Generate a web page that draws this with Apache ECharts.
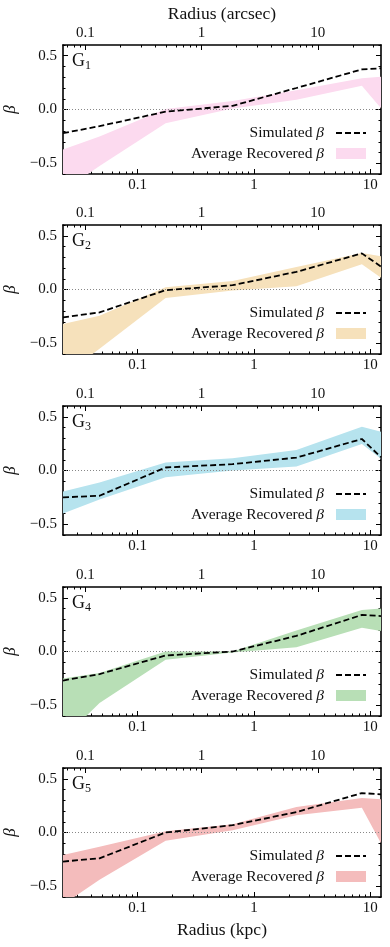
<!DOCTYPE html>
<html>
<head>
<meta charset="utf-8">
<script src="https://cdn.jsdelivr.net/npm/echarts@6/dist/echarts.min.js"></script>
<style>
  html, body { margin: 0; padding: 0; background: #fff; }
  #chart { width: 390px; height: 947px; }
</style>
</head>
<body>
<div id="chart"></div>
<script>
// radius in kpc where the profiles are read (first/last = plot edges)
var radiusKpc = [0.0228, 0.047, 0.174, 0.656, 2.32, 8.49, 12.4];

// simulated beta (dashed line)
var simG1 = [-0.22, -0.155, -0.02, 0.034, 0.20, 0.373, 0.383];
var simG2 = [-0.26, -0.213, -0.006, 0.04, 0.164, 0.336, 0.213];
var simG3 = [-0.25, -0.235, 0.028, 0.059, 0.12, 0.293, 0.123];
var simG4 = [-0.27, -0.21, -0.037, 0.0, 0.145, 0.34, 0.33];
var simG5 = [-0.27, -0.24, 0.0, 0.068, 0.19, 0.367, 0.355];

// average recovered beta, upper / lower edge of the band
var upG1 = [-0.373, -0.25, 0.005, 0.08, 0.18, 0.29, 0.305];
var loG1 = [-0.76, -0.525, -0.127, 0.01, 0.09, 0.22, 0.012];
var upG2 = [-0.32, -0.244, 0.02, 0.08, 0.21, 0.34, 0.31];
var loG2 = [-0.8, -0.552, -0.08, -0.01, 0.03, 0.235, 0.11];
var upG3 = [-0.195, -0.111, 0.074, 0.114, 0.19, 0.407, 0.36];
var loG3 = [-0.4, -0.27, -0.062, 0.0, 0.037, 0.247, 0.11];
var upG4 = [-0.25, -0.2, 0.0, 0.0, 0.195, 0.386, 0.4];
var loG4 = [-0.81, -0.48, -0.077, -0.01, 0.04, 0.222, 0.19];
var upG5 = [-0.21, -0.133, 0.012, 0.077, 0.238, 0.32, 0.31];
var loG5 = [-0.67, -0.44, -0.077, 0.02, 0.16, 0.23, -0.1];

var groupNames = ['1', '2', '3', '4', '5'];
var bandColors = ['#fcdaef', '#f6e1bb', '#b6e3ee', '#b8dfb6', '#f4bcbc'];

// axis ticks
var kpcMajor = [0.1, 1, 10];
var kpcMinor = [0.03, 0.04, 0.05, 0.06, 0.07, 0.08, 0.09, 0.2, 0.3, 0.4, 0.5, 0.6, 0.7, 0.8, 0.9, 2, 3, 4, 5, 6, 7, 8, 9];
var arcMajor = [0.1, 1, 10];
var arcMinor = [0.07, 0.08, 0.09, 0.2, 0.3, 0.4, 0.5, 0.6, 0.7, 0.8, 0.9, 2, 3, 4, 5, 6, 7, 8, 9, 20, 30];
var betaMajor = [-0.5, 0, 0.5];

var xMin = 0.0228, xMax = 12.4;
var kpcPerArcsec = 0.355;

var sims = [simG1, simG2, simG3, simG4, simG5];
var ups = [upG1, upG2, upG3, upG4, upG5];
var los = [loG1, loG2, loG3, loG4, loG5];

var FONT = 'Liberation Serif';
var tops = [45, 225, 406, 587, 768];
var H = 129;

var chart = echarts.init(document.getElementById('chart'));

function fmtBeta(v) {
  if (v === 0) return '0.0';
  return (v < 0 ? '\u2212' : '') + Math.abs(v).toFixed(1);
}

var grids = [], xAxes = [], yAxes = [], series = [], legends = [], titles = [];

groupNames.forEach(function (g, i) {
  grids.push({ left: 63, right: 9, top: tops[i], height: H, outerBoundsMode: 'none' });

  var lineBox = { show: true, onZero: false, lineStyle: { color: '#000', width: 1.6 } };
  var lbl = { fontFamily: FONT, fontSize: 15, color: '#111' };

  // bottom kpc axis: major (labels) + minor
  xAxes.push({
    type: 'log', gridIndex: i, position: 'bottom', min: xMin, max: xMax,
    axisLine: lineBox, splitLine: { show: false },
    axisTick: { inside: true, length: 5, customValues: kpcMajor, lineStyle: { color: '#000' } },
    axisLabel: Object.assign({ margin: 4, customValues: kpcMajor, formatter: function (v) { return String(v); } }, lbl),
    name: i === 4 ? 'Radius (kpc)' : '', nameLocation: 'middle', nameGap: 24,
    nameTextStyle: { fontFamily: FONT, fontSize: 17.5, color: '#111' }
  });
  xAxes.push({
    type: 'log', gridIndex: i, position: 'bottom', min: xMin, max: xMax,
    axisLine: { show: false, onZero: false }, splitLine: { show: false }, axisLabel: { show: false },
    axisTick: { inside: true, length: 2.5, customValues: kpcMinor, lineStyle: { color: '#000' } }
  });
  // top arcsec axis: major + minor
  xAxes.push({
    type: 'log', gridIndex: i, position: 'top', min: xMin / kpcPerArcsec, max: xMax / kpcPerArcsec,
    axisLine: lineBox, splitLine: { show: false },
    axisTick: { inside: true, length: 5, customValues: arcMajor, lineStyle: { color: '#000' } },
    axisLabel: Object.assign({ margin: 4, customValues: arcMajor, formatter: function (v) { return String(v); } }, lbl),
    name: i === 0 ? 'Radius (arcsec)' : '', nameLocation: 'middle', nameGap: 22,
    nameTextStyle: { fontFamily: FONT, fontSize: 17.5, color: '#111' }
  });
  xAxes.push({
    type: 'log', gridIndex: i, position: 'top', min: xMin / kpcPerArcsec, max: xMax / kpcPerArcsec,
    axisLine: { show: false, onZero: false }, splitLine: { show: false }, axisLabel: { show: false },
    axisTick: { inside: true, length: 2.5, customValues: arcMinor, lineStyle: { color: '#000' } }
  });

  // left / right beta axes
  ['left', 'right'].forEach(function (pos) {
    yAxes.push({
      type: 'value', gridIndex: i, position: pos, min: -0.6, max: 0.6,
      axisLine: lineBox, splitLine: { show: false },
      axisTick: { inside: true, length: 5, customValues: betaMajor, lineStyle: { color: '#000' } },
      axisLabel: pos === 'left'
        ? Object.assign({ margin: 6, customValues: betaMajor, formatter: fmtBeta }, lbl)
        : { show: false },
      name: pos === 'left' ? '\u03b2' : '', nameLocation: 'middle', nameGap: 28, nameRotate: 90,
      nameTextStyle: { fontFamily: FONT, fontSize: 17, fontStyle: 'italic', color: '#111' }
    });
    yAxes.push({
      type: 'value', gridIndex: i, position: pos, min: -0.6, max: 0.6, interval: 0.1,
      axisLine: { show: false, onZero: false }, splitLine: { show: false }, axisLabel: { show: false },
      axisTick: { inside: true, length: 2.5, lineStyle: { color: '#000' } }
    });
  });

  var up = ups[i], lo = los[i], sim = sims[i];
  var ax = i * 4;

  series.push({
    name: 'Average Recovered \u03b2|' + i,
    type: 'custom', xAxisIndex: ax, yAxisIndex: ax, clip: true, z: 1,
    itemStyle: { color: bandColors[i] },
    data: [[1, 0]],
    renderItem: function (params, api) {
      var pts = [];
      radiusKpc.forEach(function (r, k) { pts.push(api.coord([r, up[k]])); });
      for (var k = radiusKpc.length - 1; k >= 0; k--) pts.push(api.coord([radiusKpc[k], lo[k]]));
      return { type: 'polygon', shape: { points: pts }, style: { fill: bandColors[i] } };
    },
    silent: true
  });

  series.push({
    name: 'Simulated \u03b2|' + i,
    type: 'line', xAxisIndex: ax, yAxisIndex: ax, z: 3,
    symbol: 'none', silent: true,
    lineStyle: { color: '#000', width: 1.8, type: [6, 3] },
    itemStyle: { color: '#000' },
    data: radiusKpc.map(function (r, k) { return [r, sim[k]]; }),
    markLine: {
      silent: true, symbol: 'none', label: { show: false }, z: 2,
      lineStyle: { color: '#888', width: 1, type: [1, 2] },
      data: [{ yAxis: 0 }]
    }
  });

  legends.push({
    data: [
      { name: 'Simulated \u03b2|' + i, itemStyle: { opacity: 0 } },
      { name: 'Average Recovered \u03b2|' + i, icon: 'rect' }
    ],
    orient: 'vertical', align: 'right', right: 23, top: tops[i] + 80,
    padding: 0, itemGap: 4.5, itemWidth: 30, itemHeight: 11, selectedMode: false,
    formatter: function (name) { return name.split('|')[0].replace('\u03b2', '{b|\u03b2}') + '{s|}'; },
    textStyle: {
      fontFamily: FONT, fontSize: 15.5, color: '#111', lineHeight: 16,
      rich: { b: { fontFamily: FONT, fontSize: 15.5, fontStyle: 'italic', lineHeight: 16 }, s: { width: 7 } }
    }
  });

  titles.push({
    text: 'G{s|' + g + '}', left: 72, top: tops[i] + 6, padding: 0,
    textStyle: {
      fontFamily: FONT, fontSize: 18, fontWeight: 'normal', color: '#111',
      rich: { s: { fontFamily: FONT, fontSize: 12, verticalAlign: 'bottom', padding: [9, 0, 0, 0] } }
    }
  });
});

chart.setOption({
  animation: false,
  backgroundColor: '#fff',
  title: titles,
  legend: legends,
  grid: grids,
  xAxis: xAxes,
  yAxis: yAxes,
  series: series
});
</script>
</body>
</html>
